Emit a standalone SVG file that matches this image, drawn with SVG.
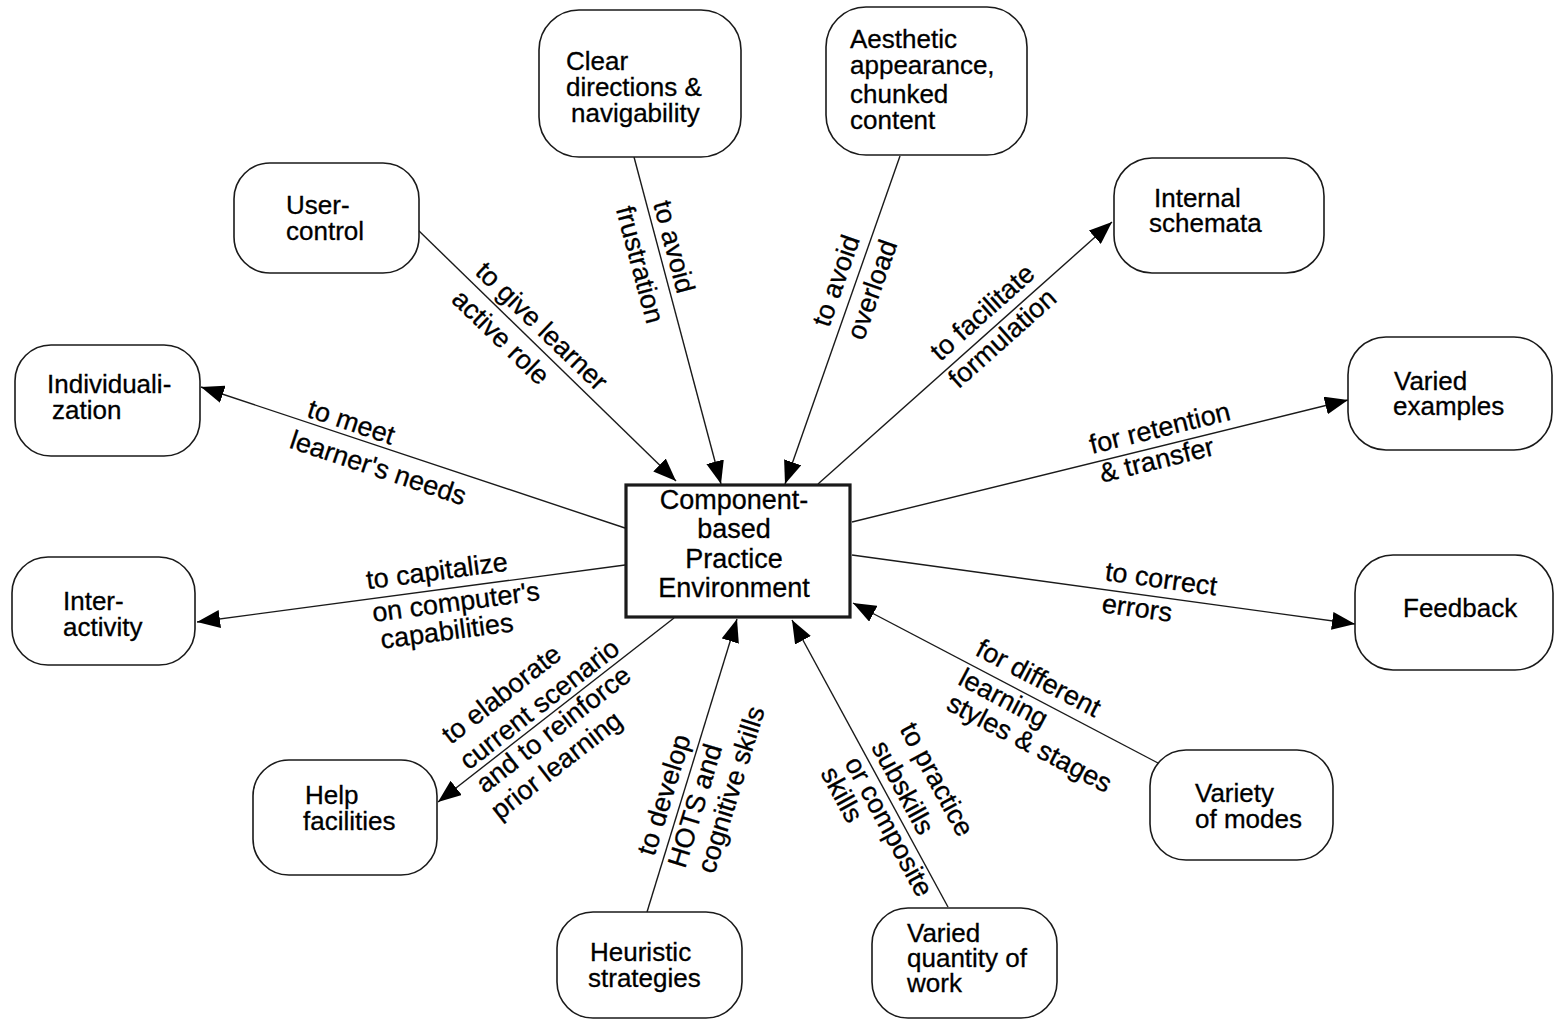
<svg xmlns="http://www.w3.org/2000/svg" width="1554" height="1022" viewBox="0 0 1554 1022">
  <style>
    .node rect { fill: #fff; stroke: #1a1a1a; stroke-width: 1.6; }
    .node text { font-family: "Liberation Sans", Arial, sans-serif; font-size: 26px; fill: #000; stroke: #000; stroke-width: 0.3; }
    #center rect { stroke-width: 3.2; }
    #center text { font-size: 27px; text-anchor: middle; }
    .edge line { stroke: #1a1a1a; stroke-width: 1.4; fill: none; }
    .edge line.out, .edge line.in { marker-end: url(#arrow); }
    .lbl { font-family: "Liberation Sans", Arial, sans-serif; font-size: 27px; fill: #000; stroke: #000; stroke-width: 0.3; text-anchor: middle; }
  </style>
  <defs>
    <marker id="arrow" markerUnits="userSpaceOnUse" markerWidth="23" markerHeight="18" refX="23" refY="9" orient="auto">
      <path d="M0,0 L23,9 L0,18 Z" fill="#000"/>
    </marker>
  </defs>
  <rect width="1554" height="1022" fill="#fff"/>

  <!-- connectors with their labels -->
  <g id="connectors">
    <g class="edge" id="e-user">
      <line class="in" x1="417" y1="229" x2="676" y2="481"/>
      <text class="lbl" transform="translate(541 327) rotate(44)" y="8">to give learner</text>
      <text class="lbl" transform="translate(500 338) rotate(44)" y="8">active role</text>
    </g>
    <g class="edge" id="e-clear">
      <line class="in" x1="634" y1="157" x2="721" y2="484"/>
      <text class="lbl" transform="translate(673 247) rotate(75)" y="8">to avoid</text>
      <text class="lbl" transform="translate(639 265) rotate(75)" y="8">frustration</text>
    </g>
    <g class="edge" id="e-aesthetic">
      <line class="in" x1="900" y1="156" x2="785" y2="484"/>
      <text class="lbl" transform="translate(837 281) rotate(-70.7)" y="8">to avoid</text>
      <text class="lbl" transform="translate(873 290) rotate(-70.7)" y="8">overload</text>
    </g>
    <g class="edge" id="e-schemata">
      <line class="out" x1="818" y1="484" x2="1112" y2="222"/>
      <text class="lbl" transform="translate(983 313) rotate(-41.7)" y="8">to facilitate</text>
      <text class="lbl" transform="translate(1003 339) rotate(-41.7)" y="8">formulation</text>
    </g>
    <g class="edge" id="e-indiv">
      <line class="out" x1="625" y1="528" x2="201" y2="387"/>
      <text class="lbl" transform="translate(351 423) rotate(18.4)" y="8">to meet</text>
      <text class="lbl" transform="translate(378 469) rotate(18.4)" y="8">learner's needs</text>
    </g>
    <g class="edge" id="e-examples">
      <line class="out" x1="852" y1="522" x2="1348" y2="400"/>
      <text class="lbl" transform="translate(1160 429) rotate(-13.8)" y="8">for retention</text>
      <text class="lbl" transform="translate(1157 461) rotate(-13.8)" y="8">&amp; transfer</text>
    </g>
    <g class="edge" id="e-inter">
      <line class="out" x1="625" y1="565" x2="197" y2="622"/>
      <text class="lbl" transform="translate(437 572) rotate(-7.6)" y="8">to capitalize</text>
      <text class="lbl" transform="translate(456 603) rotate(-7.6)" y="8">on computer's</text>
      <text class="lbl" transform="translate(447 632) rotate(-7.6)" y="8">capabilities</text>
    </g>
    <g class="edge" id="e-feedback">
      <line class="out" x1="852" y1="555" x2="1355" y2="624"/>
      <text class="lbl" transform="translate(1161 580) rotate(7.8)" y="8">to correct</text>
      <text class="lbl" transform="translate(1137 609) rotate(7.8)" y="8">errors</text>
    </g>
    <g class="edge" id="e-help">
      <line class="out" x1="674" y1="618" x2="438" y2="802"/>
      <text class="lbl" transform="translate(502 695) rotate(-37.9)" y="8">to elaborate</text>
      <text class="lbl" transform="translate(540 705) rotate(-37.9)" y="8">current scenario</text>
      <text class="lbl" transform="translate(554 730) rotate(-37.9)" y="8">and to reinforce</text>
      <text class="lbl" transform="translate(557 766) rotate(-37.9)" y="8">prior learning</text>
    </g>
    <g class="edge" id="e-heuristic">
      <line class="in" x1="647" y1="912" x2="737" y2="619"/>
      <text class="lbl" transform="translate(665 795) rotate(-72.9)" y="8">to develop</text>
      <text class="lbl" transform="translate(696 806) rotate(-72.9)" y="8">HOTS and</text>
      <text class="lbl" transform="translate(732 790) rotate(-72.9)" y="8">cognitive skills</text>
    </g>
    <g class="edge" id="e-quantity">
      <line class="in" x1="948" y1="907" x2="792" y2="620"/>
      <text class="lbl" transform="translate(936 780) rotate(61.5)" y="8">to practice</text>
      <text class="lbl" transform="translate(902 788) rotate(61.5)" y="8">subskills</text>
      <text class="lbl" transform="translate(888 827) rotate(61.5)" y="8">or composite</text>
      <text class="lbl" transform="translate(841 795) rotate(61.5)" y="8">skills</text>
    </g>
    <g class="edge" id="e-modes">
      <line class="in" x1="1158" y1="763" x2="853" y2="603"/>
      <text class="lbl" transform="translate(1038 679) rotate(27.7)" y="8">for different</text>
      <text class="lbl" transform="translate(1003 699) rotate(27.7)" y="8">learning</text>
      <text class="lbl" transform="translate(1029 744) rotate(27.7)" y="8">styles &amp; stages</text>
    </g>
  </g>

  <!-- central concept -->
  <g class="node" id="center">
    <rect x="626" y="485" width="224" height="132"/>
    <text x="734" y="509">Component-</text>
    <text x="734" y="538">based</text>
    <text x="734" y="568">Practice</text>
    <text x="734" y="597">Environment</text>
  </g>

  <!-- surrounding concepts -->
  <g class="node" id="n-clear">
    <rect x="539" y="10" width="202" height="147" rx="40"/>
    <text x="566" y="70">Clear</text>
    <text x="566" y="96">directions &amp;</text>
    <text x="571" y="122">navigability</text>
  </g>
  <g class="node" id="n-aesthetic">
    <rect x="826" y="7" width="201" height="148" rx="40"/>
    <text x="850" y="48">Aesthetic</text>
    <text x="850" y="74">appearance,</text>
    <text x="850" y="103">chunked</text>
    <text x="850" y="129">content</text>
  </g>
  <g class="node" id="n-user">
    <rect x="234" y="163" width="185" height="110" rx="36"/>
    <text x="286" y="214">User-</text>
    <text x="286" y="240">control</text>
  </g>
  <g class="node" id="n-schemata">
    <rect x="1114" y="158" width="210" height="115" rx="38"/>
    <text x="1154" y="207">Internal</text>
    <text x="1149" y="232">schemata</text>
  </g>
  <g class="node" id="n-indiv">
    <rect x="15" y="345" width="185" height="111" rx="36"/>
    <text x="47" y="393">Individuali-</text>
    <text x="52" y="419">zation</text>
  </g>
  <g class="node" id="n-examples">
    <rect x="1348" y="337" width="204" height="113" rx="38"/>
    <text x="1394" y="390">Varied</text>
    <text x="1393" y="415">examples</text>
  </g>
  <g class="node" id="n-inter">
    <rect x="12" y="557" width="183" height="108" rx="36"/>
    <text x="63" y="610">Inter-</text>
    <text x="63" y="636">activity</text>
  </g>
  <g class="node" id="n-feedback">
    <rect x="1355" y="555" width="198" height="115" rx="38"/>
    <text x="1403" y="617">Feedback</text>
  </g>
  <g class="node" id="n-help">
    <rect x="253" y="760" width="184" height="115" rx="36"/>
    <text x="305" y="804">Help</text>
    <text x="303" y="830">facilities</text>
  </g>
  <g class="node" id="n-modes">
    <rect x="1150" y="750" width="183" height="110" rx="36"/>
    <text x="1195" y="802">Variety</text>
    <text x="1195" y="828">of modes</text>
  </g>
  <g class="node" id="n-heuristic">
    <rect x="557" y="912" width="185" height="106" rx="36"/>
    <text x="590" y="961">Heuristic</text>
    <text x="588" y="987">strategies</text>
  </g>
  <g class="node" id="n-quantity">
    <rect x="872" y="908" width="185" height="110" rx="36"/>
    <text x="907" y="942">Varied</text>
    <text x="907" y="967">quantity of</text>
    <text x="907" y="992">work</text>
  </g>
</svg>
